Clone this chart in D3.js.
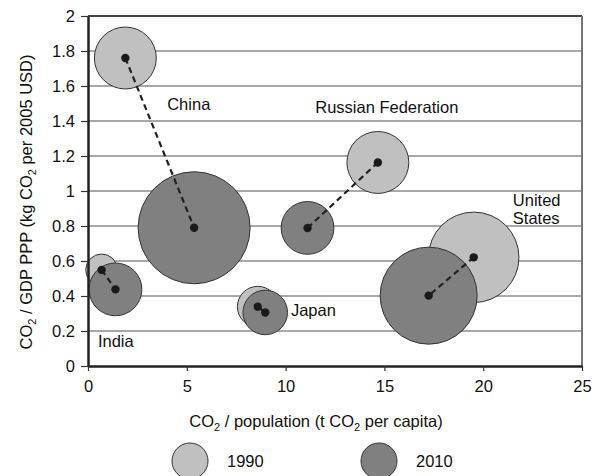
<!DOCTYPE html>
<html>
<head>
<meta charset="utf-8">
<script src="https://cdn.jsdelivr.net/npm/d3@7"></script>
<style>
  body { margin: 0; background: #fff; }
  svg text { font-family: "Liberation Sans", Arial, sans-serif; fill: #111; }
</style>
</head>
<body>
<svg id="chart" width="602" height="476"></svg>
<script>
// country data
var countries = ["China", "Russian Federation", "United States", "India", "Japan"];
// CO2 per capita (t) and CO2 / GDP PPP (kg per 2005 USD)
var perCapita1990 = [1.89, 14.67, 19.52, 0.69, 8.59];
var intensity1990 = [1.76, 1.163, 0.621, 0.549, 0.339];
var perCapita2010 = [5.37, 11.11, 17.24, 1.39, 8.97];
var intensity2010 = [0.79, 0.789, 0.402, 0.438, 0.306];
// total emissions (Gt CO2) -> bubble area
var total1990 = [2.2, 2.2, 4.7, 0.58, 0.95];
var total2010 = [7.2, 1.6, 5.4, 1.6, 1.14];

var xTicks = [0, 5, 10, 15, 20, 25];
var yTicks = [0, 0.2, 0.4, 0.6, 0.8, 1, 1.2, 1.4, 1.6, 1.8, 2];
var years = ["1990", "2010"];
var yearColors = ["#c0c0c0", "#808080"];

// label positions in data units (baseline of first line)
var labels = [
    { text: ["China"], x: 5.1, y: 1.463, anchor: "middle" },
    { text: ["Russian Federation"], x: 11.5, y: 1.447, anchor: "start" },
    { text: ["United", "States"], x: 21.5, y: 0.914, anchor: "start" },
    { text: ["India"], x: 0.5, y: 0.11, anchor: "start" },
    { text: ["Japan"], x: 10.27, y: 0.286, anchor: "start" }
];

var fontSize = "16.5px";
var margin = { left: 88, right: 20, top: 16, bottom: 110 };
var width = 602, height = 476;
var svg = d3.select("#chart");

var xScale = d3.scaleLinear().domain([0, 25]).range([margin.left, width - margin.right]);
var yScale = d3.scaleLinear().domain([0, 2]).range([height - margin.bottom, margin.top]);
var rScale = d3.scaleSqrt().domain([0, 7.2]).range([0, 56]);

var data = countries.map(function(c, i) {
    return {
        country: c,
        x1: perCapita1990[i], y1: intensity1990[i], s1: total1990[i],
        x2: perCapita2010[i], y2: intensity2010[i], s2: total2010[i]
    };
});

// gridlines
svg.append("g").selectAll("line")
    .data(yTicks.filter(function(d) { return d > 0 && d < 2; }))
    .enter().append("line")
    .attr("x1", xScale(0)).attr("x2", xScale(25))
    .attr("y1", function(d) { return yScale(d); })
    .attr("y2", function(d) { return yScale(d); })
    .style("stroke", "#a8a8a8").style("stroke-width", 2);

// plot frame top + right
svg.append("line")
    .attr("x1", xScale(0)).attr("x2", xScale(25))
    .attr("y1", yScale(2)).attr("y2", yScale(2))
    .style("stroke", "#444").style("stroke-width", 2);
svg.append("line")
    .attr("x1", xScale(25)).attr("x2", xScale(25))
    .attr("y1", yScale(2)).attr("y2", yScale(0))
    .style("stroke", "#777").style("stroke-width", 2);

var bubbles = svg.append("g");

// 1990 circles under 2010 circles
bubbles.selectAll("circle.y1990")
    .data(data).enter().append("circle")
    .attr("class", "y1990")
    .attr("cx", function(d) { return xScale(d.x1); })
    .attr("cy", function(d) { return yScale(d.y1); })
    .attr("r", function(d) { return rScale(d.s1); })
    .style("fill", yearColors[0])
    .style("stroke", "#333").style("stroke-width", 1);

bubbles.selectAll("circle.y2010")
    .data(data).enter().append("circle")
    .attr("class", "y2010")
    .attr("cx", function(d) { return xScale(d.x2); })
    .attr("cy", function(d) { return yScale(d.y2); })
    .attr("r", function(d) { return rScale(d.s2); })
    .style("fill", yearColors[1])
    .style("stroke", "#333").style("stroke-width", 1);

bubbles.selectAll("line.path")
    .data(data).enter().append("line")
    .attr("class", "path")
    .attr("x1", function(d) { return xScale(d.x1); })
    .attr("y1", function(d) { return yScale(d.y1); })
    .attr("x2", function(d) { return xScale(d.x2); })
    .attr("y2", function(d) { return yScale(d.y2); })
    .style("stroke", "#222").style("stroke-width", 2.2)
    .style("stroke-dasharray", "6,4");

var dots = [];
data.forEach(function(d) {
    dots.push([d.x1, d.y1]);
    dots.push([d.x2, d.y2]);
});
bubbles.selectAll("circle.dot")
    .data(dots).enter().append("circle")
    .attr("class", "dot")
    .attr("cx", function(d) { return xScale(d[0]); })
    .attr("cy", function(d) { return yScale(d[1]); })
    .attr("r", 4.2)
    .style("fill", "#1a1a1a");

// axes
var xAxis = svg.append("g")
    .attr("transform", "translate(0," + yScale(0) + ")")
    .call(d3.axisBottom(xScale).tickValues(xTicks).tickSize(5).tickSizeOuter(0).tickPadding(9));
var yAxis = svg.append("g")
    .attr("transform", "translate(" + xScale(0) + ",0)")
    .call(d3.axisLeft(yScale).tickValues(yTicks).tickSize(7).tickSizeOuter(0).tickPadding(6)
        .tickFormat(function(d) { return d3.format("")(d); }));

[xAxis, yAxis].forEach(function(ax) {
    ax.select(".domain").style("stroke", "#222").style("stroke-width", 2.5);
    ax.selectAll(".tick line").style("stroke", "#333").style("stroke-width", 1.2);
    ax.selectAll(".tick text").style("font-size", fontSize).style("fill", "#111")
        .style("font-family", "'Liberation Sans', Arial, sans-serif");
});

// country labels
labels.forEach(function(l) {
    var t = svg.append("text")
        .attr("x", xScale(l.x))
        .attr("y", yScale(l.y))
        .attr("text-anchor", l.anchor)
        .style("font-size", fontSize);
    l.text.forEach(function(s, j) {
        t.append("tspan").attr("x", xScale(l.x)).attr("dy", j === 0 ? 0 : 18).text(s);
    });
});

// axis titles with subscripts
function subTitle(sel, parts) {
    parts.forEach(function(p, i) {
        var ts = sel.append("tspan").text(p);
        if (i % 2 === 1) {
            ts.style("font-size", "11px").attr("dy", 4);
        } else if (i > 0) {
            ts.attr("dy", -4);
        }
    });
}

var xTitle = svg.append("text")
    .attr("x", 316).attr("y", 427)
    .attr("text-anchor", "middle")
    .style("font-size", fontSize);
subTitle(xTitle, ["CO", "2", " / population (t CO", "2", " per capita)"]);

var yTitle = svg.append("text")
    .attr("transform", "translate(32,202) rotate(-90)")
    .attr("text-anchor", "middle")
    .style("font-size", fontSize);
subTitle(yTitle, ["CO", "2", " / GDP PPP (kg CO", "2", " per 2005 USD)"]);

// legend
var legendX = [190, 379];
var legend = svg.append("g").selectAll("g")
    .data(years).enter().append("g")
    .attr("transform", function(d, i) { return "translate(" + legendX[i] + ",461)"; });
legend.append("circle")
    .attr("r", 18)
    .style("fill", function(d, i) { return yearColors[i]; })
    .style("stroke", "#333").style("stroke-width", 1);
legend.append("text")
    .attr("x", 37).attr("dy", "0.35em")
    .style("font-size", fontSize)
    .text(function(d) { return d; });
</script>
</body>
</html>
